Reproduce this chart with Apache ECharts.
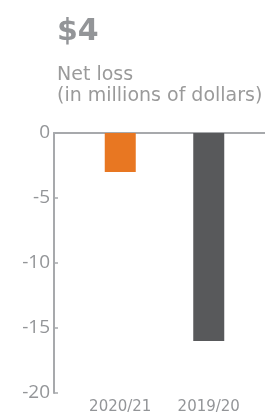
<!DOCTYPE html>
<html>
<head>
<meta charset="utf-8">
<script src="https://cdn.jsdelivr.net/npm/echarts@6/dist/echarts.min.js"></script>
<style>
  html, body { margin: 0; padding: 0; background: #fff; }
  #chart { width: 265px; height: 415px; }
</style>
</head>
<body>
<div id="chart"></div>
<script>
var years = ['2020/21', '2019/20'];
var netLoss = [-3, -16];
var barColors = ['#E87722', '#58595B'];
var yTicks = { min: -20, max: 0, interval: 5 };

var chart = echarts.init(document.getElementById('chart'));

var gray = '#939598';

chart.setOption({
    animation: false,
    title: {
        text: '$4',
        subtext: 'Net loss\n(in millions of dollars)',
        left: 52,
        top: 12,
        itemGap: 18,
        textStyle: {
            fontFamily: 'DejaVu Sans',
            fontWeight: 'bold',
            fontSize: 30,
            lineHeight: 30,
            color: gray
        },
        subtextStyle: {
            fontFamily: 'DejaVu Sans',
            fontSize: 19,
            lineHeight: 21,
            color: '#9a9a9a'
        }
    },
    grid: [
        // axes frame: y axis + zero line across the full width
        { left: 54, right: 0, top: 133, bottom: 22 },
        // bars
        { left: 76, right: 12, top: 133, bottom: 22 }
    ],
    xAxis: [{
        gridIndex: 0,
        type: 'category',
        data: years,
        axisLine: { onZero: true, lineStyle: { color: '#a7a9ac', width: 2 } },
        axisTick: { show: false },
        axisLabel: { show: false }
    }, {
        gridIndex: 1,
        type: 'category',
        data: years,
        position: 'bottom',
        axisLine: { show: false, onZero: false },
        axisTick: { show: false },
        axisLabel: {
            margin: 7,
            fontFamily: 'DejaVu Sans',
            fontSize: 15,
            color: gray
        }
    }],
    yAxis: [{
        gridIndex: 0,
        type: 'value',
        min: yTicks.min,
        max: yTicks.max,
        interval: yTicks.interval,
        axisLine: { show: true, lineStyle: { color: '#a7a9ac', width: 2 } },
        axisTick: { show: true, inside: true, length: 4, lineStyle: { color: '#a7a9ac', width: 1.5 } },
        splitLine: { show: false },
        axisLabel: {
            margin: 4,
            fontFamily: 'Open Sans',
            fontSize: 19,
            color: gray
        }
    }, {
        gridIndex: 1,
        type: 'value',
        min: yTicks.min,
        max: yTicks.max,
        interval: yTicks.interval,
        show: false
    }],
    series: [{
        type: 'bar',
        xAxisIndex: 1,
        yAxisIndex: 1,
        barWidth: 31,
        data: netLoss.map(function (v, i) {
            return { value: v, itemStyle: { color: barColors[i] } };
        })
    }]
});
</script>
</body>
</html>
